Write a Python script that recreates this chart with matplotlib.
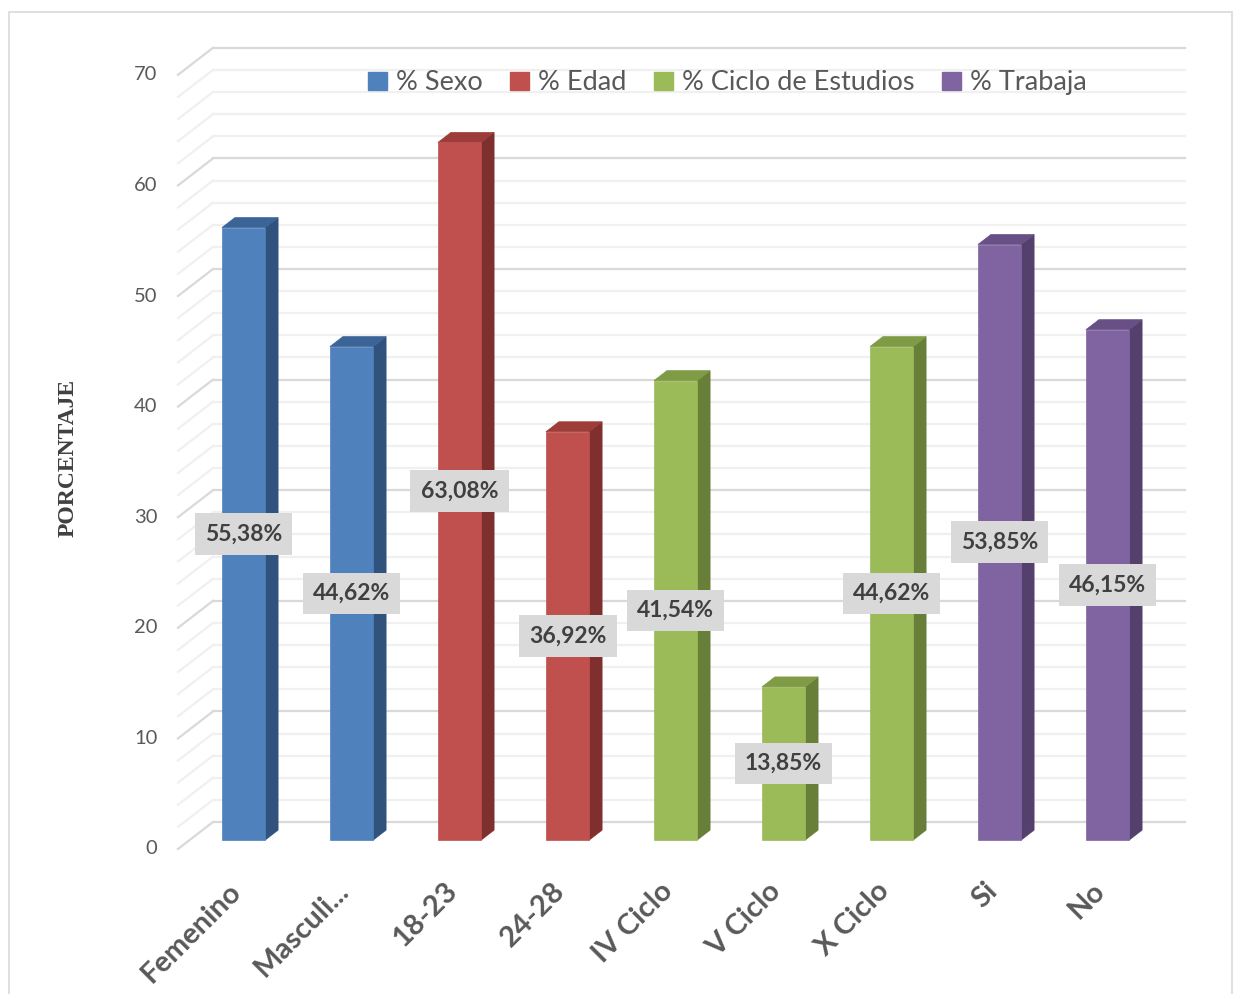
import matplotlib.pyplot as plt
from matplotlib.patches import Polygon, Rectangle, Patch

# datos
categorias = ['Femenino', 'Masculi...', '18-23', '24-28', 'IV Ciclo', 'V Ciclo', 'X Ciclo', 'Si', 'No']
valores = [55.38, 44.62, 63.08, 36.92, 41.54, 13.85, 44.62, 53.85, 46.15]
grupo = [0, 0, 1, 1, 2, 2, 2, 3, 3]
series = ['% Sexo', '% Edad', '% Ciclo de Estudios', '% Trabaja']
y_ticks = [0, 10, 20, 30, 40, 50, 60, 70]

# (frente, arriba, lado)
colores = [('#4f81bd', '#3c6597', '#31527c'),
           ('#c0504d', '#9e3c3a', '#7f2f2d'),
           ('#9bbb59', '#7f9b46', '#687f39'),
           ('#8064a2', '#684f86', '#54406d')]

DX = 0.324   # profundidad en unidades de categoria
DY = 2.44    # profundidad en unidades de valor
D0, D1 = 0.33, 0.70
HW = 0.2


def proj(x, v, d):
    return (x + d * DX, v + d * DY)


plt.rcParams['font.family'] = ['Lato', 'DejaVu Sans']
fig = plt.figure(figsize=(12.35, 9.94), dpi=100)
ax = fig.add_axes([0, 0, 1, 1])
ax.set_xlim(-232 / 108, (1235 - 232) / 108)
ax.set_ylim((849 - 994) / 11.06, 849 / 11.06)
ax.axis('off')

fig.patches.append(Rectangle((9 / 1235, -0.01), (1232 - 9) / 1235, (994 - 12) / 994 + 0.01,
                             transform=fig.transFigure, fill=False, edgecolor='#d9d9d9', lw=1.2))

# paredes
for v in range(0, 71, 2):
    c = '#d9d9d9' if v % 10 == 0 else '#f0f0f0'
    a = proj(-0.5, v, 1)
    b = proj(8.5, v, 1)
    ax.plot([a[0], b[0]], [a[1], b[1]], color=c, lw=1.6, zorder=1)
    f = proj(-0.5, v, 0)
    ax.plot([f[0], a[0]], [f[1], a[1]], color=c, lw=1.6, zorder=1)

for v in y_ticks:
    ax.text(-0.5 - 0.19, v, str(v), ha='right', va='center', fontsize=14.5, color='#595959')

ax.text(-1.52, 35.4, 'PORCENTAJE', rotation=90, ha='center', va='center', fontsize=17,
        fontweight='bold', color='#404040', family='Liberation Serif')

# barras
for i, (cat, v, g) in enumerate(zip(categorias, valores, grupo)):
    fr, tp, sd = colores[g]
    x0, x1 = i - HW, i + HW
    front = [proj(x0, 0, D0), proj(x1, 0, D0), proj(x1, v, D0), proj(x0, v, D0)]
    side = [proj(x1, 0, D0), proj(x1, 0, D1), proj(x1, v, D1), proj(x1, v, D0)]
    top = [proj(x0, v, D0), proj(x1, v, D0), proj(x1, v, D1), proj(x0, v, D1)]
    for pts, c in [(side, sd), (top, tp), (front, fr)]:
        ax.add_patch(Polygon(pts, closed=True, facecolor=c, edgecolor=c, lw=0.5, zorder=3))
    cx, cy = proj(i, v / 2, D0)
    ax.text(cx, cy, f'{v:.2f}'.replace('.', ',') + '%', ha='center', va='center', fontsize=16.5,
            fontweight='bold', color='#404040', zorder=5,
            bbox=dict(boxstyle='square,pad=0.45', facecolor='#d9d9d9', edgecolor='none'))
    ax.text(i - 0.04, -2.6, cat, rotation=45, rotation_mode='anchor', ha='right', va='top',
            fontsize=21, fontweight='bold', color='#595959')

handles = [Patch(facecolor=c[0], edgecolor=c[0]) for c in colores]
leg = fig.legend(handles, series, loc='center', bbox_to_anchor=(0.589, 0.9165), ncol=4,
                 frameon=False, fontsize=19.5, handlelength=0.7, handleheight=0.7,
                 handletextpad=0.35, columnspacing=1.0, labelcolor='#595959')

fig.savefig('out.png', dpi=100)
